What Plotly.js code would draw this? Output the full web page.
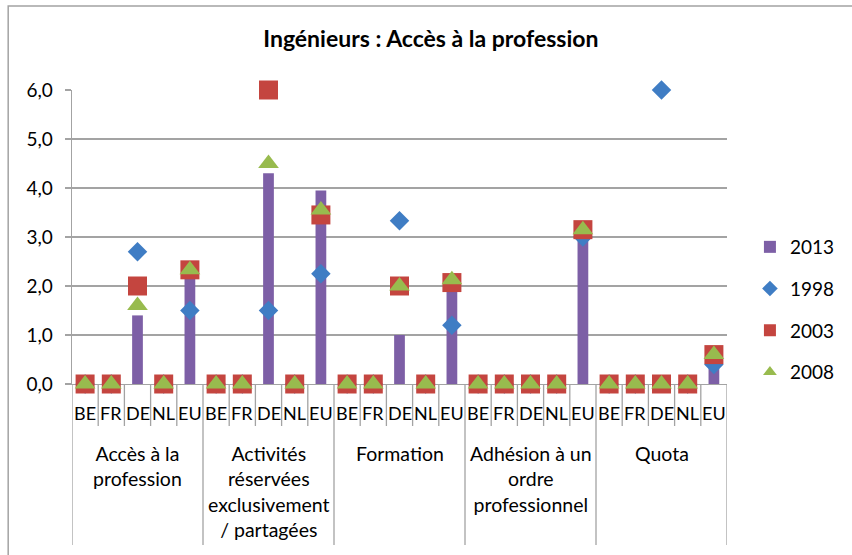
<!DOCTYPE html>
<html><head><meta charset="utf-8">
<script src="https://cdn.plot.ly/plotly-3.0.1.min.js"></script>
<style>html,body{margin:0;padding:0;background:#fff;overflow:hidden}</style>
</head><body><div id="chart" style="width:852px;height:555px"></div>
<script>
// ---- data ----
const groups = ["Accès à la<br>profession", "Activités<br>réservées<br>exclusivement<br>/ partagées", "Formation", "Adhésion à un<br>ordre<br>professionnel", "Quota"];
const countries = ["BE", "FR", "DE", "NL", "EU"];
const seriesNames = ["2013", "1998", "2003", "2008"];
const v2013 = [0, 0, 1.4, 0, 2.25,  0, 0, 4.3, 0, 3.95,  0, 0, 1.0, 0, 2.0,  0, 0, 0, 0, 3.0,  0, 0, 0, 0, 0.4];
const v1998 = [0, 0, 2.7, 0, 1.5,   0, 0, 1.5, 0, 2.25,  0, 0, 3.33, 0, 1.2, 0, 0, 0, 0, 3.0,  0, 0, 6.0, 0, 0.4];
const v2003 = [0, 0, 2.0, 0, 2.33,  0, 0, 6.0, 0, 3.45,  0, 0, 2.0, 0, 2.07, 0, 0, 0, 0, 3.15, 0, 0, 0, 0, 0.6];
const v2008 = [0, 0, 1.6, 0, 2.33,  0, 0, 4.5, 0, 3.55,  0, 0, 2.0, 0, 2.13, 0, 0, 0, 0, 3.15, 0, 0, 0, 0, 0.6];
const yTicks = [0, 1, 2, 3, 4, 5, 6];

// ---- geometry ----
const W = 852, H = 555;
const M = {l: 72, r: 123, t: 90, b: 171};
const plotW = W - M.l - M.r, plotH = H - M.t - M.b;
const px = p => (p - M.l) / plotW;
const py = p => (H - M.b - p) / plotH;

const FONT = "Lato, 'Open Sans', sans-serif";
const GRAY = "#a3a3a3";

const nC = countries.length;
const xIdx = [];
const countryLab = [];
groups.forEach((g, gi) => countries.forEach((c, ci) => { xIdx.push(gi * nC + ci); countryLab.push(c); }));

const traces = [
  {type: "bar", name: seriesNames[0], x: xIdx, y: v2013, width: 0.41,
   marker: {color: "#7D5FA6"}, legendgroup: "a", hoverinfo: "y"},
  {type: "scatter", mode: "markers", name: seriesNames[1], x: xIdx, y: v1998, cliponaxis: false,
   marker: {symbol: "diamond", size: 15, color: "#3F7DC4", line: {width: 0}}, legendgroup: "b"},
  {type: "scatter", mode: "markers", name: seriesNames[2], x: xIdx, y: v2003, cliponaxis: false,
   marker: {symbol: "square", size: 19, color: "#C4453F", line: {width: 0}}, legendgroup: "c"},
  {type: "scatter", mode: "markers", name: seriesNames[3], x: xIdx, y: v2008, cliponaxis: false,
   marker: {symbol: "triangle-up", size: 18, color: "#98BB4E", line: {width: 0}}, legendgroup: "d"}
];

const shapes = [];
// chart frame
shapes.push({type: "rect", xref: "paper", yref: "paper", x0: px(8), x1: px(W + 20), y0: py(H + 20), y1: py(6),
  line: {color: GRAY, width: 1.5}, fillcolor: "rgba(0,0,0,0)", layer: "below"});
// category separators
for (let i = 0; i <= xIdx.length; i++) {
  const isGroup = i % nC === 0;
  shapes.push({type: "line", xref: "x", yref: "paper", x0: i - 0.5, x1: i - 0.5,
    y0: 0, y1: py(isGroup ? 545 : 426), line: {color: GRAY, width: 1.3}, layer: "below"});
}

const annotations = [];
xIdx.forEach((x, i) => annotations.push({xref: "x", yref: "paper", x: x, y: py(413), text: countryLab[i],
  showarrow: false, xanchor: "center", yanchor: "middle", font: {family: FONT, size: 18, color: "#000"}}));
groups.forEach((g, gi) => annotations.push({xref: "x", yref: "paper", x: gi * nC + (nC - 1) / 2, y: py(440),
  text: g, showarrow: false, xanchor: "center", yanchor: "top", align: "center",
  font: {family: FONT, size: 19.5, color: "#000"}}));

const layout = {
  width: W, height: H, margin: M,
  paper_bgcolor: "#fff", plot_bgcolor: "#fff",
  separators: ", ",
  font: {family: FONT, size: 19, color: "#000"},
  title: {text: "Ingénieurs : Accès à la profession", x: px(432), xref: "paper", xanchor: "center",
    y: 1 - 39 / H, yref: "container", yanchor: "middle",
    font: {family: FONT, size: 23, weight: "bold", color: "#000"}},
  xaxis: {range: [-0.5, xIdx.length - 0.5], showgrid: false, zeroline: false, showticklabels: false,
    ticks: "", showline: true, linecolor: GRAY, linewidth: 1.3, layer: "below traces", fixedrange: true},
  yaxis: {range: [0, 6], tickvals: yTicks, tickformat: ".1f", showgrid: true, gridcolor: GRAY, gridwidth: 1.3,
    zeroline: false, showline: true, linecolor: GRAY, linewidth: 1.3, ticks: "outside", ticklen: 6,
    tickcolor: GRAY, tickwidth: 1.3, ticklabelstandoff: 8, tickfont: {family: FONT, size: 19, color: "#000"},
    layer: "below traces", fixedrange: true},
  bargap: 0.59,
  showlegend: true,
  legend: {x: px(752), y: py(228), xanchor: "left", yanchor: "top", xref: "paper", yref: "paper",
    font: {family: FONT, size: 19, color: "#000"}, tracegroupgap: 14, itemsizing: "constant",
    traceorder: "grouped", bgcolor: "rgba(0,0,0,0)"},
  shapes: shapes, annotations: annotations,
  hovermode: false
};

Plotly.newPlot("chart", traces, layout, {displayModeBar: false, staticPlot: true});
</script>
</body></html>
